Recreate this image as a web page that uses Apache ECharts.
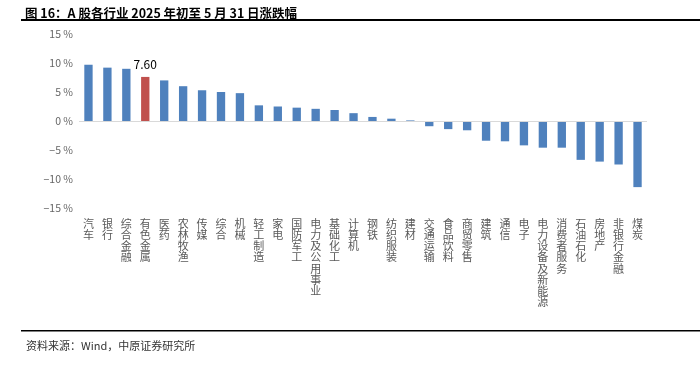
<!DOCTYPE html>
<html>
<head>
<meta charset="utf-8">
<script src="https://cdn.jsdelivr.net/npm/echarts@6/dist/echarts.min.js"></script>
<style>
	html, body { margin: 0; padding: 0; background: #fff; }
	.chart { width: 700px; height: 375px; }
</style>
</head>
<body>
<div class="chart"></div>
<script>
// 行业名称
var industries = ['汽车', '银行', '综合金融', '有色金属', '医药', '农林牧渔', '传媒', '综合', '机械', '轻工制造',
	'家电', '国防军工', '电力及公用事业', '基础化工', '计算机', '钢铁', '纺织服装', '建材', '交通运输', '食品饮料',
	'商贸零售', '建筑', '通信', '电子', '电力设备及新能源', '消费者服务', '石油石化', '房地产', '非银行金融', '煤炭'];
// 涨跌幅 %
var changes = [9.7, 9.2, 9.0, 7.6, 7.0, 6.0, 5.3, 5.0, 4.8, 2.7,
	2.5, 2.3, 2.1, 1.9, 1.35, 0.7, 0.4, 0.1, -0.9, -1.4,
	-1.6, -3.4, -3.5, -4.2, -4.6, -4.6, -6.7, -7.0, -7.5, -11.4];
// 纵轴刻度
var yTicks = [-15, -10, -5, 0, 5, 10, 15];
// 标红的行业
var highlight = '有色金属';

(function() {
	var myChart = echarts.init(document.querySelector('.chart'));
	// 组装柱子数据，有色金属单独标红并显示数值
	var barData = changes.map(function(v, i) {
		if (industries[i] === highlight) {
			return {
				value: v,
				itemStyle: { color: '#C0504D' },
				label: {
					show: true,
					position: 'top',
					distance: 6,
					color: '#000',
					fontSize: 12,
					fontFamily: 'Noto Sans CJK SC',
					formatter: function(p) { return p.value.toFixed(2); }
				}
			};
		}
		return v;
	});
	var option = {
		animation: false,
		title: {
			text: '图 16：A 股各行业 2025 年初至 5 月 31 日涨跌幅',
			left: 20,
			top: 2,
			textStyle: {
				fontSize: 12.5,
				fontWeight: 'bold',
				color: '#000',
				fontFamily: 'Noto Sans CJK SC'
			}
		},
		// 上下两条横线和资料来源
		graphic: [{
			type: 'rect',
			shape: { x: 21, y: 19, width: 679, height: 2 },
			style: { fill: '#000' },
			silent: true
		}, {
			type: 'rect',
			shape: { x: 21, y: 330, width: 679, height: 1.5 },
			style: { fill: '#000' },
			silent: true
		}, {
			type: 'text',
			left: 26,
			top: 340,
			style: {
				text: '资料来源：Wind，中原证券研究所',
				fontSize: 11,
				fill: '#333',
				fontFamily: 'Noto Sans CJK SC'
			}
		}],
		grid: {
			left: 79,
			right: 53,
			top: 34,
			bottom: 167
		},
		xAxis: {
			type: 'category',
			data: industries,
			axisTick: { show: false },
			// 轴线不跟随0刻度，0线用markLine画
			axisLine: { show: false, onZero: false },
			axisLabel: {
				interval: 0,
				margin: 10,
				color: '#595959',
				fontSize: 11,
				lineHeight: 11.2,
				verticalAlign: 'top',
				fontFamily: 'Noto Sans CJK SC',
				// 文字竖排，每行一个字
				formatter: function(name) {
					return name.split('').join('\n');
				}
			}
		},
		yAxis: {
			type: 'value',
			min: yTicks[0],
			max: yTicks[yTicks.length - 1],
			interval: 5,
			axisLine: { show: false },
			axisTick: { show: false },
			splitLine: { show: false },
			axisLabel: {
				margin: 6,
				color: '#666',
				fontSize: 10.5,
				fontFamily: 'Noto Sans CJK SC',
				formatter: function(v) {
					return String(v).replace('-', '−') + ' %';
				}
			}
		},
		series: [{
			type: 'bar',
			data: barData,
			barWidth: '44%',
			itemStyle: { color: '#4F81BD' },
			markLine: {
				silent: true,
				symbol: 'none',
				label: { show: false },
				lineStyle: { color: '#D9D9D9', width: 1, type: 'solid' },
				data: [{ yAxis: 0 }]
			}
		}]
	};
	myChart.setOption(option);
})();
</script>
</body>
</html>
